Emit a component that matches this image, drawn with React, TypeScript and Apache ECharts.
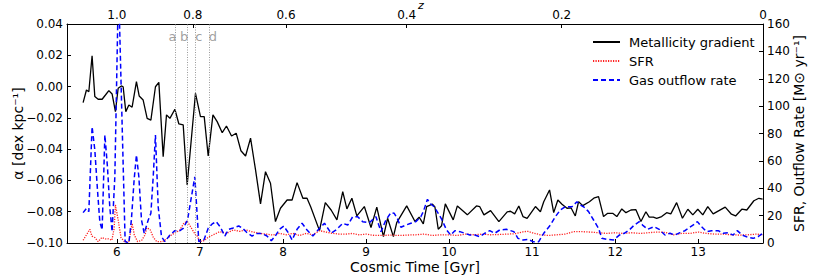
import React, { useEffect, useRef } from "react";
import * as echarts from "echarts";

// Metallicity gradient alpha [dex/kpc] vs cosmic time [Gyr]
const metTime = [5.594,5.634,5.663,5.702,5.735,5.775,5.823,5.863,5.904,5.943,5.983,6.016,6.055,6.076,6.108,6.145,6.184,6.236,6.269,6.317,6.365,6.41,6.465,6.506,6.558,6.598,6.639,6.699,6.747,6.799,6.847,6.947,7.007,7.052,7.10,7.157,7.208,7.269,7.32,7.381,7.437,7.494,7.55,7.61,7.67,7.73,7.79,7.85,7.91,7.97,8.05,8.11,8.17,8.24,8.29,8.335,8.44,8.51,8.58,8.65,8.72,8.77,8.83,8.89,8.98,9.06,9.13,9.21,9.26,9.33,9.37,9.49,9.59,9.64,9.69,9.73,9.80,9.83,9.87,9.91,9.955,10.05,10.10,10.22,10.33,10.37,10.42,10.50,10.60,10.70,10.74,10.79,10.84,10.89,10.94,11.04,11.10,11.14,11.21,11.26,11.31,11.36,11.42,11.47,11.52,11.56,11.61,11.69,11.75,11.80,11.86,11.91,11.97,12.02,12.08,12.13,12.19,12.25,12.31,12.37,12.41,12.46,12.50,12.56,12.62,12.67,12.74,12.81,12.875,12.935,12.995,13.055,13.115,13.18,13.25,13.325,13.40,13.45,13.525,13.585,13.67,13.73,13.775];
const metAlpha = [-0.0103,-0.0022,-0.0033,0.0197,-0.0064,-0.0081,-0.0081,-0.0054,-0.0026,-0.0047,-0.016,-0.0011,0.0004,-0.0001,-0.016,-0.0118,-0.0132,0.0031,-0.006,-0.0086,-0.0203,-0.0214,-0.0001,0.0027,-0.0448,-0.0181,-0.0203,-0.0145,-0.0239,-0.0245,-0.0629,-0.0043,-0.0192,-0.0192,-0.0444,-0.0181,-0.0224,-0.0295,-0.0252,-0.0316,-0.0298,-0.041,-0.0444,-0.033,-0.0533,-0.075,-0.0544,-0.0618,-0.0863,-0.0778,-0.0725,-0.0725,-0.0614,-0.0714,-0.0714,-0.077,-0.0921,-0.0742,-0.0789,-0.0852,-0.0671,-0.0782,-0.0714,-0.0827,-0.0767,-0.0901,-0.0771,-0.0959,-0.0842,-0.0959,-0.087,-0.0763,-0.0863,-0.0835,-0.0878,-0.0767,-0.0752,-0.077,-0.0912,-0.089,-0.075,-0.0852,-0.0763,-0.082,-0.0763,-0.0768,-0.082,-0.0793,-0.0863,-0.0801,-0.0797,-0.0814,-0.0763,-0.0831,-0.0842,-0.0767,-0.08,-0.0736,-0.0661,-0.0806,-0.0725,-0.0752,-0.0778,-0.0776,-0.0827,-0.0736,-0.0761,-0.0736,-0.0711,-0.0704,-0.0831,-0.081,-0.081,-0.0831,-0.0782,-0.0806,-0.0789,-0.0787,-0.0863,-0.08,-0.0835,-0.0835,-0.0842,-0.0831,-0.0806,-0.0814,-0.0742,-0.0842,-0.0784,-0.082,-0.0784,-0.082,-0.0767,-0.0814,-0.0793,-0.0771,-0.0816,-0.0827,-0.0784,-0.0789,-0.073,-0.0714,-0.072];

// SFR [Msun/yr]
const sfrTime = [5.594,5.675,5.70,5.735,5.775,5.82,5.86,5.90,5.94,5.968,5.983,6.016,6.05,6.09,6.145,6.184,6.21,6.25,6.30,6.34,6.36,6.40,6.44,6.48,6.55,6.60,6.66,6.72,6.758,6.81,6.85,6.90,6.946,6.96,7.0,7.05,7.10,7.16,7.24,7.32,7.40,7.48,7.56,7.64,7.72,7.80,7.88,7.96,8.04,8.12,8.20,8.28,8.36,8.44,8.52,8.60,8.68,8.76,8.84,8.92,9.00,9.10,9.20,9.30,9.40,9.50,9.60,9.70,9.80,9.90,10.0,10.1,10.2,10.3,10.4,10.5,10.6,10.7,10.8,10.9,10.95,11.0,11.1,11.2,11.3,11.4,11.5,11.6,11.7,11.8,11.9,12.0,12.1,12.2,12.3,12.4,12.5,12.6,12.7,12.8,12.9,13.0,13.1,13.2,13.3,13.4,13.5,13.6,13.7,13.78];
const sfrRate = [2,10,5,4,1,4,3,3,2,10.7,27.8,16.8,4,1,1,14.4,6,1,2,6,11,10,4,1,1,3,6,8,9.5,14.8,15.6,10.7,6,6.1,1,1.7,4.1,6,8.3,7,9.5,8.5,9.5,8,7,6.5,5.8,7,6,7,5.5,7,6,9,8,7,6.5,6.5,7,6,6.5,5.5,5.5,5.8,5.5,5.8,6,6.5,5.5,6,6,5.5,6.5,6,6.5,6,6.2,6.5,6.8,8.3,8.5,7.5,6,5.5,6,6.5,8.3,8.3,8,7.5,7,7.5,7,7.5,7,7.5,8,7.8,6,7,7,8,7,6.5,6.5,6,5.8,6,6.5,6];

// Gas outflow rate [Msun/yr]
const outTime = [5.594,5.634,5.663,5.702,5.735,5.767,5.795,5.823,5.856,5.887,5.915,5.943,5.976,6.02,6.10,6.145,6.175,6.208,6.236,6.265,6.297,6.33,6.378,6.41,6.438,6.465,6.498,6.538,6.579,6.639,6.699,6.759,6.799,6.851,6.939,6.987,7.047,7.10,7.148,7.196,7.248,7.30,7.348,7.40,7.468,7.51,7.56,7.628,7.69,7.75,7.81,7.86,7.907,7.958,8.01,8.07,8.11,8.17,8.23,8.29,8.36,8.44,8.50,8.58,8.64,8.72,8.78,8.84,8.90,8.96,9.04,9.12,9.18,9.24,9.30,9.34,9.38,9.42,9.48,9.54,9.60,9.66,9.69,9.74,9.78,9.82,9.87,9.91,9.97,10.02,10.07,10.13,10.19,10.25,10.31,10.37,10.43,10.49,10.55,10.61,10.69,10.78,10.83,10.89,10.95,11.01,11.08,11.14,11.22,11.28,11.34,11.40,11.48,11.54,11.58,11.62,11.68,11.74,11.80,11.84,11.90,11.98,12.05,12.11,12.17,12.23,12.29,12.33,12.39,12.47,12.53,12.60,12.66,12.72,12.78,12.84,12.90,12.96,12.99,13.04,13.10,13.16,13.24,13.30,13.36,13.42,13.47,13.53,13.60,13.66,13.72,13.78];
const outRate = [22.2,25.3,22.9,85,68,38.7,15.6,9.5,78.9,55.7,26.5,8.3,48.5,190,1,0,16.8,46,64.3,48.4,16.8,7.1,16.8,21.7,48.4,78.9,26.5,4.6,1,5.8,9,9,10.7,16.8,48.4,1,2,10.7,13.9,15.6,11.5,5.1,10,11,12.4,11,8,5.1,7,7,5,1.7,5,10,12.4,7,2.2,10,14.4,9.5,5.1,10.7,14.4,7.1,9.5,14.4,13.1,19.2,19.2,15.6,14.8,19.2,8.3,16.8,22.2,21.7,17.5,11.5,13.1,14.4,15.6,19.2,22.9,31.9,28.5,26.5,21.7,17.5,9.5,5.8,9,8.3,7.1,5.8,5.8,4.6,7.1,9,7.1,9.5,10,8.3,3.4,2.2,2.7,1,1,7.1,13.1,19.2,24.1,26.5,26.5,30.2,27.8,26.5,22.9,16.8,10.7,3.4,2.7,2.2,5.8,7.1,9.5,13.1,15.6,13.1,10,11.9,10,5.8,7.1,5.8,7.6,9,11.5,13.9,15.6,11.9,8.3,9,9,7.1,7.6,5.8,9,5.8,4.1,3.4,4.6,7.1];

const timeTicks = [6, 7, 8, 9, 10, 11, 12, 13];
const zTickTime = [6.0, 6.915, 8.037, 9.49, 11.356, 13.78];
const zTickLabels = ["1.0", "0.8", "0.6", "0.4", "0.2", "0"];
const markerTime = [6.698, 6.846, 6.946, 7.107];
const markerLabelTime = [6.669, 6.81, 6.987, 7.155];
const markerLetters = ["a", "b", "c", "d"];
const markerLabelAlpha = 0.0323;

const FONT = "DejaVu Sans";

function fmtAlpha(v: number): string {
  const r = Math.round(v * 100) / 100;
  if (r === 0) return "0.00";
  return (r < 0 ? "\u2212" : "") + Math.abs(r).toFixed(2);
}

export default function App() {
  const ref = useRef<HTMLDivElement>(null);
  useEffect(() => {
    document.body.style.margin = "0";
    if (!ref.current) return;
    const chart = echarts.init(ref.current, null, { renderer: "svg" });
    const zip = (a: number[], b: number[]) => a.map((t, i) => [t, b[i]]);
    const option: any = {
      animation: false,
      textStyle: { fontFamily: FONT },
      grid: { left: 67, top: 24, width: 696, height: 219, containLabel: false, outerBoundsMode: "none" },
      legend: {
        data: ["Metallicity gradient", "SFR", "Gas outflow rate"],
        orient: "vertical",
        left: 592,
        top: 35,
        padding: 0,
        itemWidth: 27,
        itemHeight: 14,
        itemGap: 5,
        itemStyle: { opacity: 0 },
        textStyle: { fontFamily: FONT, fontSize: 13, color: "#000", padding: [0, 0, 0, 4], lineHeight: 14 },
      },
      xAxis: [
        {
          type: "value",
          position: "bottom",
          min: 5.4,
          max: 13.78,
          name: "Cosmic Time [Gyr]",
          nameLocation: "middle",
          nameGap: 17,
          nameMoveOverlap: false,
          nameTextStyle: { fontFamily: FONT, fontSize: 14, color: "#000", lineHeight: 14 },
          axisLine: { show: true, onZero: false, lineStyle: { color: "#000", width: 1 } },
          axisTick: { show: true, inside: true, length: 4, customValues: timeTicks, lineStyle: { color: "#000" } },
          axisLabel: { customValues: timeTicks, margin: 3, fontFamily: FONT, fontSize: 12, lineHeight: 12, color: "#000" },
          splitLine: { show: false },
        },
        {
          type: "value",
          position: "top",
          min: 5.4,
          max: 13.78,
          axisLine: { show: true, onZero: false, lineStyle: { color: "#000", width: 1 } },
          axisTick: { show: true, inside: true, length: 4, customValues: zTickTime, lineStyle: { color: "#000" } },
          axisLabel: {
            customValues: zTickTime,
            margin: 3,
            fontFamily: FONT,
            fontSize: 12,
            color: "#000",
            showMaxLabel: true,
            formatter: (v: number) => {
              const i = zTickTime.findIndex((t) => Math.abs(t - v) < 1e-6);
              return i >= 0 ? zTickLabels[i] : "";
            },
          },
          splitLine: { show: false },
        },
      ],
      yAxis: [
        {
          type: "value",
          position: "left",
          min: -0.1,
          max: 0.04,
          interval: 0.02,
          name: "\u03b1 [dex kpc\u207b\u00b9]",
          nameLocation: "middle",
          nameRotate: 90,
          nameGap: 42,
          nameMoveOverlap: false,
          nameTextStyle: { fontFamily: FONT, fontSize: 14, color: "#000" },
          axisLine: { show: true, onZero: false, lineStyle: { color: "#000", width: 1 } },
          axisTick: { show: true, inside: true, length: 4, lineStyle: { color: "#000" } },
          axisLabel: { margin: 4, fontFamily: FONT, fontSize: 12, color: "#000", formatter: fmtAlpha },
          splitLine: { show: false },
        },
        {
          type: "value",
          position: "right",
          min: 0,
          max: 160,
          interval: 20,
          name: "SFR, Outflow Rate [M\u2299 yr\u207b\u00b9]",
          nameLocation: "middle",
          nameRotate: 90,
          nameGap: 29,
          nameMoveOverlap: false,
          nameTextStyle: { fontFamily: FONT, fontSize: 14, color: "#000" },
          axisLine: { show: true, onZero: false, lineStyle: { color: "#000", width: 1 } },
          axisTick: { show: true, inside: true, length: 4, lineStyle: { color: "#000" } },
          axisLabel: { margin: 4, fontFamily: FONT, fontSize: 12, color: "#000" },
          splitLine: { show: false },
        },
      ],
      graphic: [
        {
          type: "text",
          left: 418,
          top: 0,
          style: { text: "z", fontFamily: FONT, fontStyle: "italic", fontSize: 11, fill: "#000" },
        },
      ],
      series: [
        {
          name: "Metallicity gradient",
          type: "line",
          xAxisIndex: 0,
          yAxisIndex: 0,
          data: zip(metTime, metAlpha),
          symbol: "none",
          z: 2,
          lineStyle: { color: "#000", width: 1.3 },
          itemStyle: { color: "#000" },
          markLine: {
            silent: true,
            symbol: ["none", "none"],
            label: { show: false },
            lineStyle: { color: "#9a9a9a", width: 1, type: [1, 1.5] },
            data: markerTime.map((t) => ({ xAxis: t })),
          },
        },
        {
          name: "markers",
          type: "scatter",
          xAxisIndex: 0,
          yAxisIndex: 0,
          symbolSize: 0,
          silent: true,
          z: 5,
          data: markerLabelTime.map((t, i) => ({ value: [t, markerLabelAlpha], name: markerLetters[i] })),
          label: {
            show: true,
            position: "inside",
            formatter: "{b}",
            fontFamily: FONT,
            fontSize: 13,
            color: "#888",
          },
        },
        {
          name: "SFR",
          type: "line",
          xAxisIndex: 0,
          yAxisIndex: 1,
          data: zip(sfrTime, sfrRate),
          symbol: "none",
          z: 3,
          lineStyle: { color: "#ff2020", width: 1.3, type: [1.2, 1.3] },
          itemStyle: { color: "#ff2020" },
        },
        {
          name: "Gas outflow rate",
          type: "line",
          xAxisIndex: 0,
          yAxisIndex: 1,
          data: zip(outTime, outRate),
          symbol: "none",
          z: 4,
          lineStyle: { color: "#0000ff", width: 1.5, type: [5, 3] },
          itemStyle: { color: "#0000ff" },
        },
      ],
    };
    chart.setOption(option);
    return () => chart.dispose();
  }, []);
  return <div ref={ref} style={{ width: 830, height: 277 }} />;
}
